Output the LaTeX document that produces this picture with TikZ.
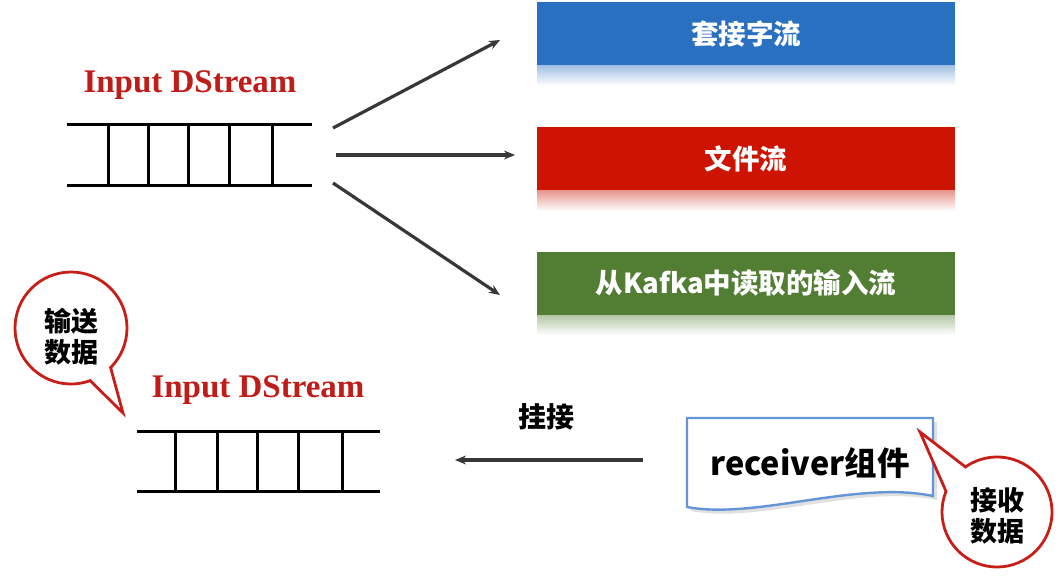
\documentclass[tikz,border=0pt]{standalone}
\usepackage{fontspec}
\setmainfont{Liberation Serif}
\newfontfamily\cjk{Noto Sans CJK SC}
\usetikzlibrary{arrows.meta}
\definecolor{boxblue}{RGB}{42,112,192}
\definecolor{boxred}{RGB}{204,20,0}
\definecolor{boxgreen}{RGB}{82,126,52}
\definecolor{titlered}{RGB}{192,28,24}
\definecolor{arrowgray}{RGB}{55,55,55}
\definecolor{recvblue}{RGB}{100,150,215}
\definecolor{bubblered}{RGB}{200,30,25}
\tikzset{
  cbox/.style={minimum width=418pt, minimum height=63pt, inner sep=0pt, text=white,
    font=\cjk\bfseries\fontsize{27.5}{31}\selectfont},
  ladder/.style={line width=3pt, black},
  title/.style={text=titlered, font=\bfseries\fontsize{33}{36}\selectfont},
  flow/.style={line width=3.2pt, arrowgray, -{Stealth[length=11pt,width=9pt]}},
  bubble/.style={line width=2.8pt, draw=bubblered, fill=white},
  btext/.style={align=center, font=\cjk\bfseries\fontsize{27}{31}\selectfont},
}
\begin{document}
\begin{tikzpicture}[x=1pt,y=1pt]
\useasboundingbox (0,0) rectangle (1062,-580);

% coloured boxes with reflections
\foreach \c/\y in {boxblue/-33.5, boxred/-159, boxgreen/-283}{
  \shade[top color=\c!45, bottom color=white] (537,\y-31.5) rectangle (955,\y-52);
}
\node[cbox, fill=boxblue] (sock) at (746,-33.5) {套接字流};
\node[cbox, fill=boxred] (file) at (746,-159) {文件流};
\node[cbox, fill=boxgreen] (kafka) at (746,-283) {从Kafka中读取的输入流};

% top Input DStream
\node[title] (t1) at (190,-85) {Input DStream};
\node[minimum width=245pt, minimum height=60pt, inner sep=0pt] (q1) at (189.5,-155) {};
\draw[ladder] (q1.north west) -- (q1.north east);
\draw[ladder] (q1.south west) -- (q1.south east);
\foreach \x in {108,148,188,229,272}{
  \draw[ladder] (\x,-125) -- (\x,-185);
}
\coordinate (s1) at (333,-128);
\coordinate (s2) at (336,-155);
\coordinate (s3) at (333,-183);
\coordinate (e1) at (500,-40);
\coordinate (e2) at (515,-155);
\coordinate (e3) at (500,-295);
\draw[flow] (s1) -- (e1);
\draw[flow] (s2) -- (e2);
\draw[flow] (s3) -- (e3);

% bottom Input DStream
\node[title] (t2) at (258,-390) {Input DStream};
\node[minimum width=243pt, minimum height=59pt, inner sep=0pt] (q2) at (258.5,-461.5) {};
\draw[ladder] (q2.north west) -- (q2.north east);
\draw[ladder] (q2.south west) -- (q2.south east);
\foreach \x in {175,217,257,298,342}{
  \draw[ladder] (\x,-432) -- (\x,-491);
}

% receiver box
\fill[black!12] (691,-422) -- (937,-422) -- (937,-500)
   .. controls (860,-484) and (760,-524) .. (691,-511) -- cycle;
\draw[recvblue, line width=2.4pt, fill=white] (687,-418) -- (933,-418) -- (933,-496)
   .. controls (856,-480) and (756,-520) .. (687,-507) -- cycle;
\node[font=\cjk\bfseries\fontsize{32.5}{35}\selectfont] (recv) at (810,-463) {receiver组件};

% hook arrow
\coordinate (h1) at (643,-460);
\coordinate (h2) at (455,-460);
\draw[flow] (h1) -- (h2);
\node[font=\cjk\bfseries\fontsize{28}{31}\selectfont] (hook) at (546,-417) {挂接};

% bubble 1
\coordinate (c1) at (71,-328);
\coordinate (tip1) at (123,-413);
\draw[bubble] (c1) ++(-45:56) arc[start angle=-45, end angle=290, radius=56] -- (tip1) -- cycle;
\node[btext] (b1) at (71,-337) {输送\\数据};

% bubble 2
\coordinate (c2) at (997,-512);
\coordinate (tip2) at (920,-432);
\draw[bubble] (c2) ++(158:55) arc[start angle=158, end angle=485, radius=55] -- (tip2) -- cycle;
\node[btext] (b2) at (997,-516) {接收\\数据};
\end{tikzpicture}
\end{document}
